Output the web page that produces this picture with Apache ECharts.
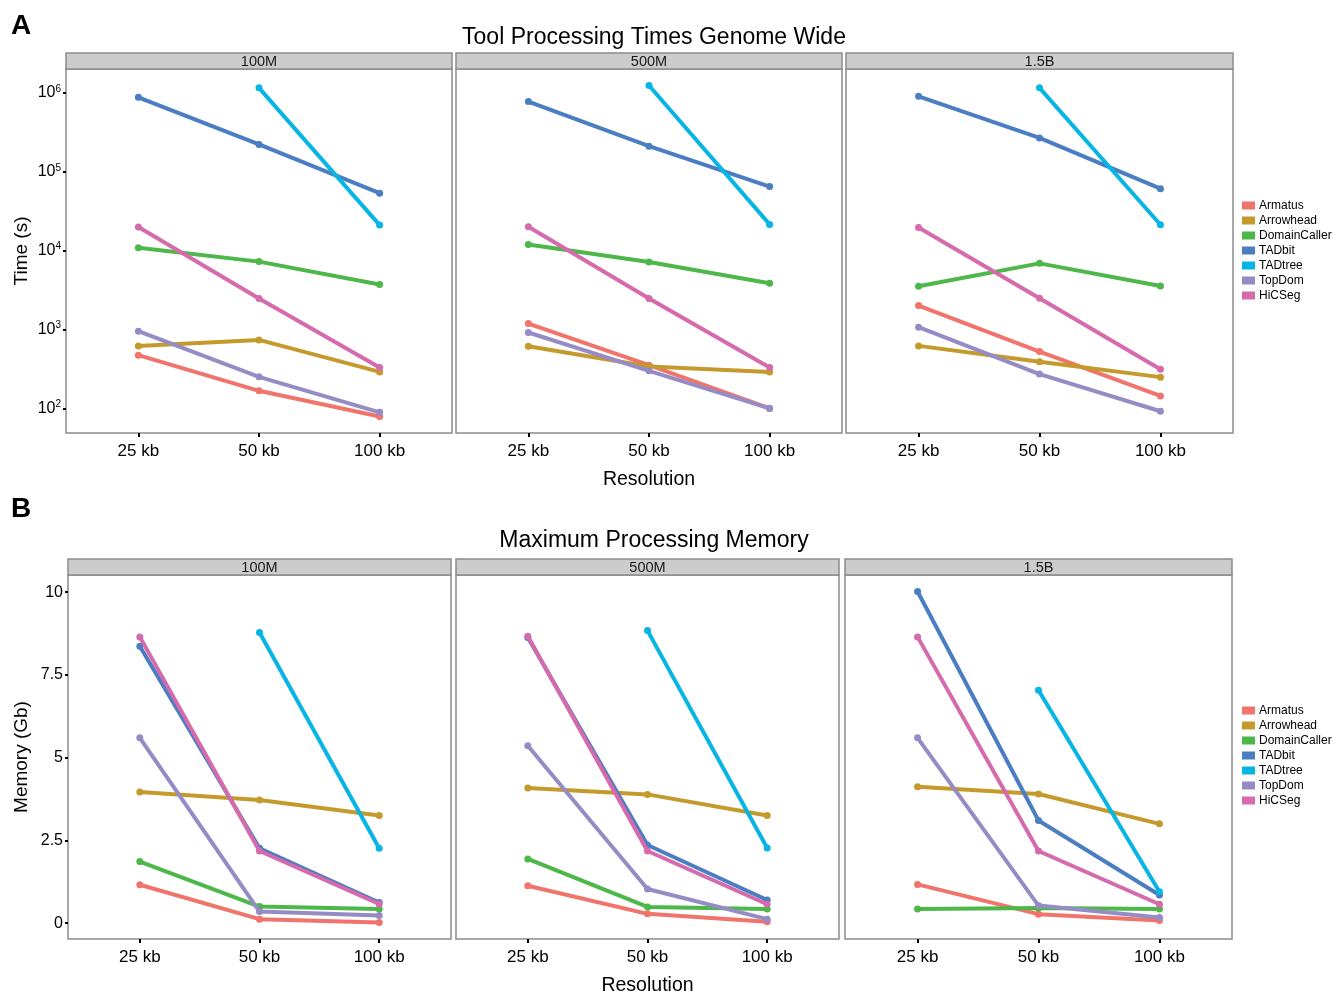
<!DOCTYPE html>
<html>
<head>
<meta charset="utf-8">
<script src="https://cdn.jsdelivr.net/npm/echarts@6/dist/echarts.min.js"></script>
<style>
html,body{margin:0;padding:0;background:#fff;}
#chart{width:1333px;height:992px;}
</style>
</head>
<body>
<div id="chart"></div>
<script>
// ---------- data ----------
const categories = ['25 kb', '50 kb', '100 kb'];
const facets = ['100M', '500M', '1.5B'];
const tools = ['Armatus', 'Arrowhead', 'DomainCaller', 'TADbit', 'TADtree', 'TopDom', 'HiCSeg'];
const timeTicks = [100, 1000, 10000, 100000, 1000000];
const memoryTicks = [0, 2.5, 5, 7.5, 10];

// Time (s), per facet [100M, 500M, 1.5B], per resolution [25kb, 50kb, 100kb]
const timeArmatus      = [[473, 167, 79], [1190, 353, 100], [2010, 526, 144]];
const timeArrowhead    = [[620, 738, 290], [615, 340, 290], [620, 389, 249]];
const timeDomainCaller = [[10900, 7260, 3720], [12000, 7180, 3860], [3530, 6900, 3560]];
const timeTADbit       = [[880000, 222000, 53600], [776000, 211000, 65000], [906000, 269000, 61000]];
const timeTADtree      = [[null, 1160000, 21100], [null, 1240000, 21500], [null, 1160000, 21300]];
const timeTopDom       = [[951, 251, 89], [916, 299, 100], [1070, 272, 92]];
const timeHiCSeg       = [[19900, 2470, 330], [20100, 2470, 330], [19700, 2490, 314]];

// Memory (Gb)
const memArmatus      = [[1.16, 0.12, 0.02], [1.13, 0.28, 0.04], [1.17, 0.27, 0.08]];
const memArrowhead    = [[3.96, 3.72, 3.25], [4.08, 3.89, 3.25], [4.12, 3.90, 3.00]];
const memDomainCaller = [[1.86, 0.50, 0.43], [1.94, 0.49, 0.43], [0.43, 0.46, 0.43]];
const memTADbit       = [[8.37, 2.26, 0.62], [8.63, 2.36, 0.70], [10.02, 3.10, 0.85]];
const memTADtree      = [[null, 8.78, 2.26], [null, 8.84, 2.27], [null, 7.04, 0.95]];
const memTopDom       = [[5.60, 0.35, 0.23], [5.36, 1.03, 0.12], [5.60, 0.53, 0.17]];
const memHiCSeg       = [[8.65, 2.18, 0.58], [8.67, 2.18, 0.57], [8.65, 2.18, 0.57]];

// ---------- styling / layout ----------
const colors = ['#F0746B', '#C49A2C', '#4DB749', '#4A7DC2', '#07B5E5', '#958BC5', '#D56AAC'];
const FONT = '"Liberation Sans", Helvetica, Arial, sans-serif';
const timeSets = [timeArmatus, timeArrowhead, timeDomainCaller, timeTADbit, timeTADtree, timeTopDom, timeHiCSeg];
const memSets = [memArmatus, memArrowhead, memDomainCaller, memTADbit, memTADtree, memTopDom, memHiCSeg];

const rowA = {top: 69, height: 364, stripTop: 53, panels: [{left: 66, width: 386}, {left: 456, width: 386}, {left: 846, width: 387}]};
const rowB = {top: 575, height: 364, stripTop: 559, panels: [{left: 68, width: 383}, {left: 456, width: 383}, {left: 845, width: 387}]};

function flatVals(sets) {
  const out = [];
  sets.forEach(s => s.forEach(f => f.forEach(v => { if (v != null) out.push(v); })));
  return out;
}
const tv = flatVals(timeSets);
const tLo = Math.log10(Math.min(...tv)), tHi = Math.log10(Math.max(...tv));
const tPad = 0.05 * (tHi - tLo);
const timeMin = Math.pow(10, tLo - tPad), timeMax = Math.pow(10, tHi + tPad);
const mv = flatVals(memSets);
const mLo = Math.min(...mv), mHi = Math.max(...mv);
const mPad = 0.05 * (mHi - mLo);
const memMin = mLo - mPad, memMax = mHi + mPad;

const grid = [], xAxis = [], yAxis = [], series = [], graphic = [];

function addRow(row, sets, isLog) {
  row.panels.forEach((p, fi) => {
    const gi = grid.length;
    grid.push({left: p.left, top: row.top, width: p.width, height: row.height, show: true,
      borderColor: '#8c8c8c', borderWidth: 1.5, backgroundColor: '#fff', containLabel: false,
      outerBoundsMode: 'none'});
    xAxis.push({
      type: 'value', gridIndex: gi, min: -0.6, max: 2.6, position: 'bottom',
      axisLine: {show: false, onZero: false}, splitLine: {show: false},
      axisTick: {show: true, customValues: [0, 1, 2], length: 4, lineStyle: {color: '#000', width: 2}},
      axisLabel: {show: true, customValues: [0, 1, 2], formatter: v => categories[Math.round(v)] || '',
        color: '#000', fontSize: 17, fontFamily: FONT, margin: 10},
      name: fi === 1 ? 'Resolution' : '', nameLocation: 'middle', nameGap: 37,
      nameTextStyle: {color: '#000', fontSize: 19.5, fontFamily: FONT}
    });
    const y = {
      gridIndex: gi, position: 'left', splitLine: {show: false}, axisLine: {show: false, onZero: false},
      axisTick: {show: fi === 0, length: 3, lineStyle: {color: '#000', width: 2}},
      axisLabel: {show: fi === 0, color: '#000', fontSize: 16, fontFamily: FONT, margin: 5},
      nameLocation: 'middle', nameRotate: 90,
      nameTextStyle: {color: '#000', fontSize: 19, fontFamily: FONT}
    };
    if (isLog) {
      y.type = 'log'; y.logBase = 10; y.min = timeMin; y.max = timeMax;
      y.axisTick.customValues = timeTicks;
      y.axisLabel.customValues = timeTicks;
      y.axisLabel.formatter = v => '10{sup|' + Math.round(Math.log10(v)) + '}';
      y.axisLabel.rich = {sup: {fontSize: 10, verticalAlign: 'top', padding: [0, 0, 8, 0], color: '#000', fontFamily: FONT}};
      y.name = fi === 0 ? 'Time (s)' : ''; y.nameGap = 35;
    } else {
      y.type = 'value'; y.min = memMin; y.max = memMax;
      y.axisTick.customValues = memoryTicks;
      y.axisLabel.customValues = memoryTicks;
      y.axisLabel.formatter = v => String(v);
      y.name = fi === 0 ? 'Memory (Gb)' : ''; y.nameGap = 37;
    }
    yAxis.push(y);
    tools.forEach((t, ti) => {
      const vals = sets[ti][fi];
      const data = [];
      vals.forEach((v, ci) => { if (v != null) data.push([ci, v]); });
      series.push({
        type: 'line', name: t, xAxisIndex: gi, yAxisIndex: gi, data: data,
        color: colors[ti], lineStyle: {width: 4, color: colors[ti]},
        itemStyle: {color: colors[ti]},
        symbol: 'circle', symbolSize: 7, showSymbol: true,
        emphasis: {disabled: true}, silent: true, animation: false, z: 2 + ti * 0.01
      });
    });
    // facet strip
    graphic.push({type: 'rect', shape: {x: p.left, y: row.stripTop, width: p.width, height: row.top - row.stripTop},
      style: {fill: '#CCCCCC', stroke: '#8c8c8c', lineWidth: 1.5}, silent: true});
    graphic.push({type: 'text', x: p.left + p.width / 2, y: row.stripTop + (row.top - row.stripTop) / 2 + 0.5,
      style: {text: facets[fi], fill: '#1a1a1a', fontSize: 14.5, fontFamily: FONT, align: 'center', verticalAlign: 'middle'}, silent: true});
  });
}
addRow(rowA, timeSets, true);
addRow(rowB, memSets, false);

const legendBase = {
  orient: 'vertical', left: 1242, itemWidth: 13, itemHeight: 8, itemGap: 0, padding: 0,
  icon: 'rect', selectedMode: false, data: tools,
  textStyle: {fontSize: 12, color: '#000', fontFamily: FONT, lineHeight: 15, padding: [0, 0, 0, -1]}
};

const option = {
  backgroundColor: '#fff',
  animation: false,
  title: [
    {text: 'A', left: 6, top: 7, textStyle: {fontSize: 28, fontWeight: 'bold', color: '#000', fontFamily: FONT}},
    {text: 'Tool Processing Times Genome Wide', left: 649, top: 21, textAlign: 'center',
      textStyle: {fontSize: 23, fontWeight: 'normal', color: '#000', fontFamily: FONT}},
    {text: 'B', left: 6, top: 490, textStyle: {fontSize: 28, fontWeight: 'bold', color: '#000', fontFamily: FONT}},
    {text: 'Maximum Processing Memory', left: 649, top: 524, textAlign: 'center',
      textStyle: {fontSize: 23, fontWeight: 'normal', color: '#000', fontFamily: FONT}}
  ],
  legend: [
    Object.assign({}, legendBase, {top: 198}),
    Object.assign({}, legendBase, {top: 703})
  ],
  grid: grid, xAxis: xAxis, yAxis: yAxis, series: series, graphic: graphic
};

const chart = echarts.init(document.getElementById('chart'), null, {renderer: 'canvas'});
chart.setOption(option);
</script>
</body>
</html>
